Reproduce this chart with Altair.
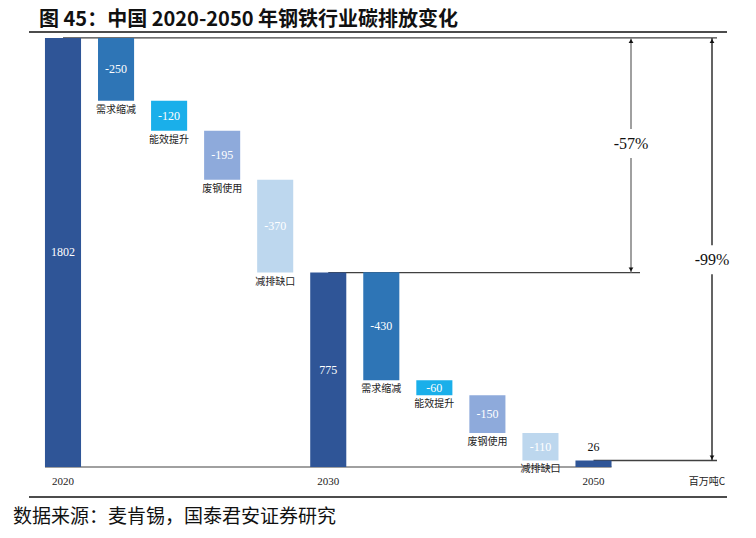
import altair as alt
import pandas as pd

# ---------------- data ----------------
categories = ["2020", "需求缩减", "能效提升", "废钢使用", "减排缺口", "2030",
              "需求缩减", "能效提升", "废钢使用", "减排缺口", "2050"]
values = [1802, -250, -120, -195, -370, 775, -430, -60, -150, -110, 26]
kinds = ["total", "需求缩减", "能效提升", "废钢使用", "减排缺口", "total",
         "需求缩减", "能效提升", "废钢使用", "减排缺口", "total"]
kind_order = ["total", "需求缩减", "能效提升", "废钢使用", "减排缺口"]
kind_colors = ["#2F5597", "#2E75B6", "#1AAFEA", "#8EAADB", "#BDD7EE"]
unit_label = "百万吨C"
arrow_labels = ["-57%", "-99%"]
title_text = "图 45：中国 2020-2050 年钢铁行业碳排放变化"
source_text = "数据来源：麦肯锡，国泰君安证券研究"

# ---------------- layout (pixels inside the 740x522 canvas) ----------------
W, H = 740, 522
X0_PX, STEP_PX = 55.0, 53.05          # pixel of bar index 0, spacing per bar
BASE_PX, K = 459.0, 0.2509            # pixel of value 0, pixels per unit
BAR_HALF = 0.34


def px_to_idx(px):
    return (px - X0_PX) / STEP_PX


x_dom = [px_to_idx(0), px_to_idx(W)]
y_dom = [-(H - BASE_PX) / K, BASE_PX / K]
xs = alt.Scale(domain=x_dom, nice=False, zero=False)
ys = alt.Scale(domain=y_dom, nice=False, zero=False)

# ---------------- waterfall geometry ----------------
n = len(values)
y0 = [0.0] * n
y1 = [0.0] * n
level = None
for i in reversed(range(n)):
    if kinds[i] == "total":
        top = values[i] if (level is None or i > 0) else level
        y0[i], y1[i] = 0.0, float(top)
        level = float(top)
    else:
        y0[i] = level
        y1[i] = level - values[i]
        level = y1[i]

rows = []
for i in range(n):
    lo, hi = min(y0[i], y1[i]), max(y0[i], y1[i])
    rows.append(dict(i=i, cat=categories[i], val=values[i], kind=kinds[i],
                     xl=i - BAR_HALF, xr=i + BAR_HALF, lo=lo, hi=hi,
                     mid=(lo + hi) / 2, txt=str(values[i]),
                     inside=(hi - lo) > 40))
df = pd.DataFrame(rows)

X = lambda f: alt.X(f, type="quantitative", scale=xs, axis=None)
Y = lambda f: alt.Y(f, type="quantitative", scale=ys, axis=None)

bars = alt.Chart(df).mark_bar().encode(
    x=X("xl"), x2="xr", y=Y("lo"), y2="hi",
    color=alt.Color("kind:N", scale=alt.Scale(domain=kind_order, range=kind_colors), legend=None),
)

vals_in = alt.Chart(df).transform_filter("datum.inside").mark_text(
    font="Liberation Serif", fontSize=12, color="white", baseline="middle"
).encode(x=X("i"), y=Y("mid"), text="txt:N")

vals_out = alt.Chart(df).transform_filter("!datum.inside").mark_text(
    font="Liberation Serif", fontSize=12, color="#111", baseline="bottom", dy=-6
).encode(x=X("i"), y=Y("hi"), text="txt:N")

step_lbl = alt.Chart(df).transform_filter("datum.kind != 'total'").mark_text(
    font="Noto Sans CJK SC", fontSize=10, color="#222", baseline="top", dy=4
).encode(x=X("i"), y=Y("lo"), text="cat:N")

year_lbl = alt.Chart(df).transform_filter("datum.kind == 'total'").mark_text(
    font="Liberation Serif", fontSize=11, color="#222", baseline="middle"
).encode(x=X("i"), y=alt.value(474), text="cat:N")

unit = alt.Chart(pd.DataFrame({"t": [unit_label]})).mark_text(
    font="Noto Sans CJK SC", fontSize=10, color="#222", baseline="middle"
).encode(x=alt.value(699), y=alt.value(474), text="t:N")

# axis baseline
base_df = pd.DataFrame({"a": [df.xl.iloc[0]], "b": [df.xr.iloc[-1]], "y": [0]})
baseline = alt.Chart(base_df).mark_rule(color="#808080", strokeWidth=1.5).encode(
    x=X("a"), x2="b", y=Y("y"))

# level reference lines
tot = df[df.kind == "total"].reset_index(drop=True)
lvl_df = pd.DataFrame({
    "a": list(tot.i),
    "b": [px_to_idx(709), px_to_idx(632), px_to_idx(709)],
    "y": list(tot.hi),
})
lvl = alt.Chart(lvl_df).mark_rule(color="#404040", strokeWidth=1.3).encode(
    x=X("a"), x2="b", y=Y("y"))

# arrows
arrow_x = [px_to_idx(623), px_to_idx(704)]
arrow_top = [tot.hi[0], tot.hi[0]]
arrow_bot = [tot.hi[1], tot.hi[2]]
label_frac = [0.55, 0.475]
arrow_col = ["#808080", "#303030"]
gap = 58
seg_rows, lab_rows, tri_rows = [], [], []
for j in range(2):
    ly = arrow_bot[j] + label_frac[j] * (arrow_top[j] - arrow_bot[j])
    seg_rows.append(dict(x=arrow_x[j], a=arrow_top[j], b=ly + gap, c=arrow_col[j]))
    seg_rows.append(dict(x=arrow_x[j], a=ly - gap, b=arrow_bot[j], c=arrow_col[j]))
    lab_rows.append(dict(x=arrow_x[j], y=ly, t=arrow_labels[j]))
    tri_rows.append(dict(x=arrow_x[j], y=arrow_top[j], s="up"))
    tri_rows.append(dict(x=arrow_x[j], y=arrow_bot[j], s="down"))
seg_df = pd.DataFrame(seg_rows)
segs = alt.Chart(seg_df).mark_rule(strokeWidth=1.5).encode(
    x=X("x"), y=Y("a"), y2="b", color=alt.Color("c:N", scale=None))
labs = alt.Chart(pd.DataFrame(lab_rows)).mark_text(
    font="Liberation Serif", fontSize=16, color="#111", baseline="middle"
).encode(x=X("x"), y=Y("y"), text="t:N")
tri_df = pd.DataFrame(tri_rows)
tri_up = alt.Chart(tri_df).transform_filter("datum.s == 'up'").mark_point(
    shape="triangle-up", filled=True, color="#111", size=22, opacity=1, yOffset=3
).encode(x=X("x"), y=Y("y"))
tri_dn = alt.Chart(tri_df).transform_filter("datum.s == 'down'").mark_point(
    shape="triangle-down", filled=True, color="#111", size=22, opacity=1, yOffset=-3
).encode(x=X("x"), y=Y("y"))

# title, frame lines, source
title = alt.Chart(pd.DataFrame({"t": [title_text]})).mark_text(
    font="Noto Sans CJK SC", fontSize=20, fontWeight="bold", color="#111",
    align="left", baseline="middle"
).encode(x=alt.value(31), y=alt.value(12), text="t:N")
source = alt.Chart(pd.DataFrame({"t": [source_text]})).mark_text(
    font="Noto Sans CJK SC", fontSize=19, color="#111", align="left", baseline="middle"
).encode(x=alt.value(5), y=alt.value(509), text="t:N")
top_line = alt.Chart(pd.DataFrame({"t": [0]})).mark_rule(color="#111", strokeWidth=1.5).encode(
    x=alt.value(21), x2=alt.value(719), y=alt.value(24))
bot_line = alt.Chart(pd.DataFrame({"t": [0]})).mark_rule(color="#111", strokeWidth=1.5).encode(
    x=alt.value(21), x2=alt.value(719), y=alt.value(489))

chart = alt.layer(
    lvl, baseline, bars, vals_in, vals_out, step_lbl, year_lbl, unit,
    segs, labs, tri_up, tri_dn, title, source, top_line, bot_line
).properties(
    width=W, height=H, autosize=alt.AutoSizeParams(type="none"), padding=0
).configure_view(stroke=None)

chart.save("out.html", embed_options={"renderer": "svg", "actions": False})
